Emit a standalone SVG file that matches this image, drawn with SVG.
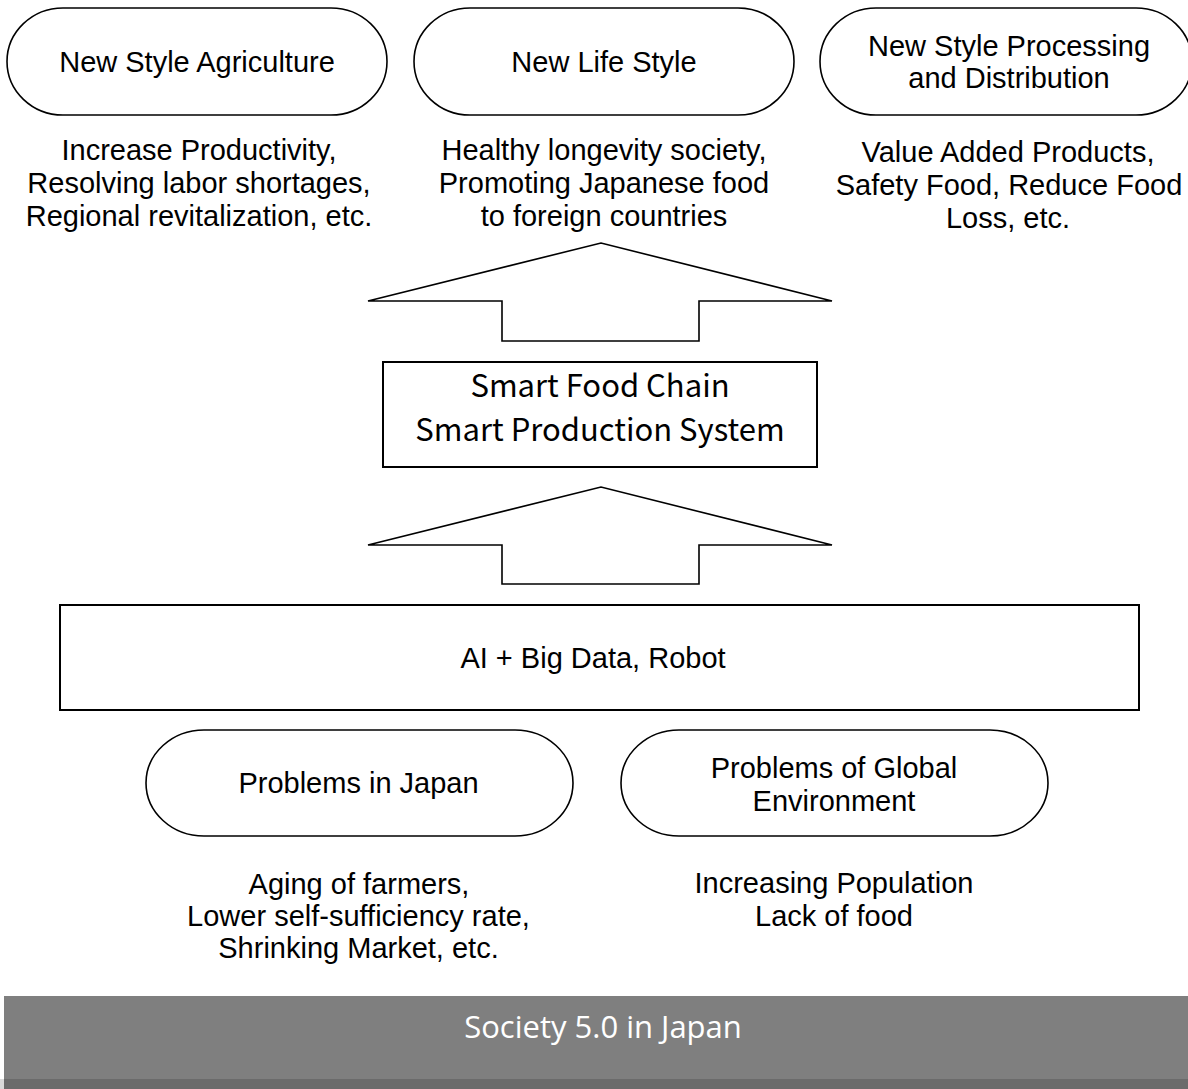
<svg xmlns="http://www.w3.org/2000/svg" width="1188" height="1089" viewBox="0 0 1188 1089">
  <style>
    .pill { fill: #fff; stroke: #000; stroke-width: 1.6; }
    .box { fill: #fff; stroke: #000; stroke-width: 2; }
    .arrow { fill: #fff; stroke: #000; stroke-width: 1.6; stroke-linejoin: miter; }
    .t { font-family: "Liberation Sans", Arial, sans-serif; font-size: 29px; fill: #000; text-anchor: middle; }
    .jp { font-family: "Noto Sans CJK JP", "Liberation Sans", sans-serif; font-size: 31px; fill: #000; text-anchor: middle; }
    .foot { font-family: "Open Sans", "Liberation Sans", sans-serif; font-size: 31px; fill: #fff; text-anchor: middle; }
  </style>
  <rect width="1188" height="1089" fill="#fff"/>

  <!-- top outcome nodes -->
  <g id="new-style-agriculture">
    <rect class="pill" x="7" y="8" width="380" height="107" rx="56" ry="53.5"/>
    <text class="t" x="197" y="72">New Style Agriculture</text>
    <text class="t" x="199" y="159.5">Increase Productivity,</text>
    <text class="t" x="199" y="192.5">Resolving labor shortages,</text>
    <text class="t" x="199" y="225.5">Regional revitalization, etc.</text>
  </g>
  <g id="new-life-style">
    <rect class="pill" x="414" y="8" width="380" height="107" rx="56" ry="53.5"/>
    <text class="t" x="604" y="72">New Life Style</text>
    <text class="t" x="604" y="159.5">Healthy longevity society,</text>
    <text class="t" x="604" y="192.5">Promoting Japanese food</text>
    <text class="t" x="604" y="225.5">to foreign countries</text>
  </g>
  <g id="new-style-processing">
    <rect class="pill" x="820" y="8" width="372" height="107" rx="56" ry="53.5"/>
    <text class="t" x="1009" y="56">New Style Processing</text>
    <text class="t" x="1009" y="88">and Distribution</text>
    <text class="t" x="1008" y="161.5">Value Added Products,</text>
    <text class="t" x="1009" y="194.5">Safety Food, Reduce Food</text>
    <text class="t" x="1008" y="227.5">Loss, etc.</text>
  </g>

  <!-- block arrows -->
  <g id="connectors">
    <polygon class="arrow" points="368,301 601,243 832,301 699,301 699,341 502,341 502,301"/>
    <polygon class="arrow" points="368,545 601,487 832,545 699,545 699,584 502,584 502,545"/>
  </g>

  <g id="smart-food-chain">
    <rect class="box" x="383" y="362" width="434" height="105" stroke-width="1.6"/>
    <text class="jp" x="600" y="397">Smart Food Chain</text>
    <text class="jp" x="600" y="441">Smart Production System</text>
  </g>

  <g id="ai-big-data">
    <rect class="box" x="60" y="605" width="1079" height="105"/>
    <text class="t" x="593" y="668">AI + Big Data, Robot</text>
  </g>

  <!-- problem nodes -->
  <g id="problems-japan">
    <rect class="pill" x="146" y="730" width="427" height="106" rx="58" ry="53"/>
    <text class="t" x="358.5" y="793">Problems in Japan</text>
    <text class="t" x="359" y="893.5">Aging of farmers,</text>
    <text class="t" x="358.5" y="925.5">Lower self-sufficiency rate,</text>
    <text class="t" x="358.5" y="957.5">Shrinking Market, etc.</text>
  </g>
  <g id="problems-global">
    <rect class="pill" x="621" y="730" width="427" height="106" rx="58" ry="53"/>
    <text class="t" x="834" y="778">Problems of Global</text>
    <text class="t" x="834" y="811">Environment</text>
    <text class="t" x="834" y="892.5">Increasing Population</text>
    <text class="t" x="834" y="925.5">Lack of food</text>
  </g>

  <!-- footer bar -->
  <g id="footer">
    <rect x="4" y="996" width="1184" height="83" fill="#7f7f7f"/>
    <rect x="0" y="1079" width="4" height="10" fill="#d9d9d9"/>
    <rect x="4" y="1079" width="1184" height="10" fill="#6b6b6b"/>
    <text class="foot" x="603" y="1038">Society 5.0 in Japan</text>
  </g>
</svg>
